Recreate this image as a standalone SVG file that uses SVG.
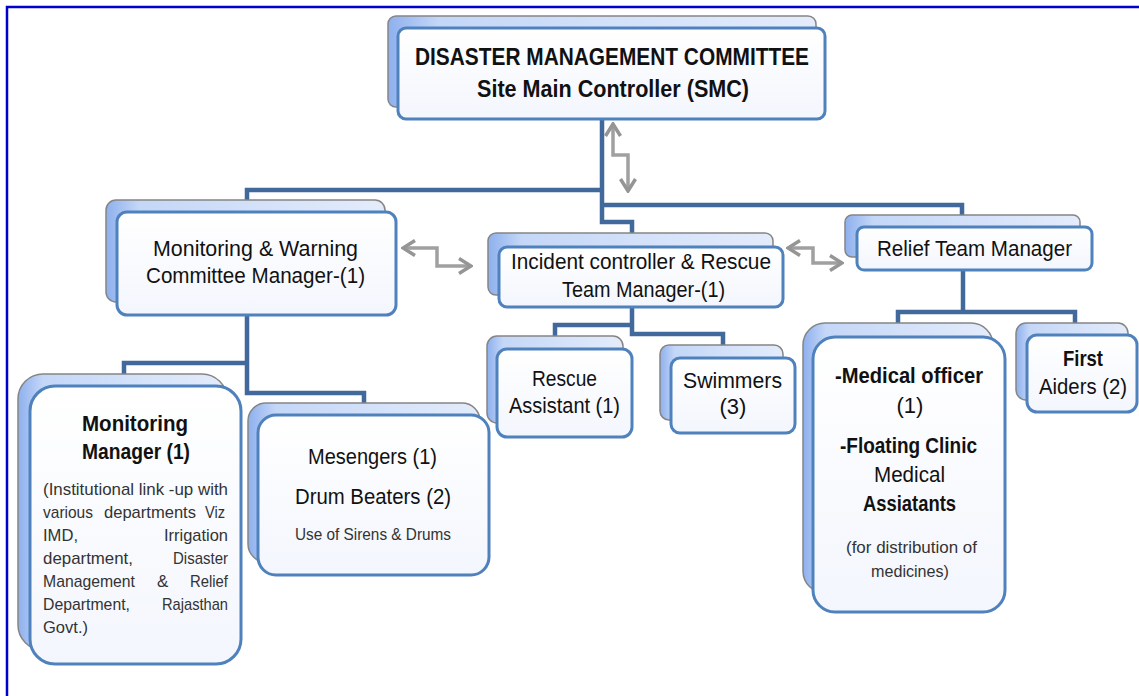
<svg xmlns="http://www.w3.org/2000/svg" width="1139" height="696" viewBox="0 0 1139 696">
<defs>
<linearGradient id="bk" x1="0" y1="0" x2="1" y2="0">
<stop offset="0" stop-color="#8eb0ee"/>
<stop offset="0.12" stop-color="#c4d7f7"/>
<stop offset="1" stop-color="#e4ecfb"/>
</linearGradient>
<linearGradient id="fr" x1="0" y1="0" x2="0" y2="1">
<stop offset="0" stop-color="#ffffff"/>
<stop offset="1" stop-color="#f3f6fd"/>
</linearGradient>
<marker id="ah" viewBox="0 0 16 18" refX="14" refY="9" markerWidth="16" markerHeight="18" markerUnits="userSpaceOnUse" orient="auto-start-reverse">
<path d="M2,1.5 L14,9 L2,16.5" fill="none" stroke="#959595" stroke-width="3.5"/>
</marker>
<style>
.bk{fill:url(#bk);stroke:#858585;stroke-width:1.5}
.fr{fill:url(#fr);stroke:#4f81bd;stroke-width:3}
.cn{fill:none;stroke:#41699b;stroke-width:4.5}
.ar{fill:none;stroke:#a0a0a0;stroke-width:3.5;marker-start:url(#ah);marker-end:url(#ah)}
text{font-family:"Liberation Sans",Arial,sans-serif;fill:#111}
.t{font-size:22px}
.b{font-weight:bold}
.s{font-size:17px;fill:#333}
.m{text-anchor:middle}
</style>
</defs>
<rect width="1139" height="696" fill="#ffffff"/>
<path d="M7,696 V7 H1139" fill="none" stroke="#0000cc" stroke-width="2.5"/>

<g id="connectors">
<path class="cn" d="M602,120 V222 H632 V233"/>
<path class="cn" d="M602,190 H247 V200"/>
<path class="cn" d="M602,205 H962 V215"/>
<path class="cn" d="M632,307 V334 H723 V345"/>
<path class="cn" d="M632,325 H555 V336"/>
<path class="cn" d="M247,315 V393 H364 V403"/>
<path class="cn" d="M247,363 H124 V374"/>
<path class="cn" d="M963,270 V312"/>
<path class="cn" d="M898,323 V312 H1075 V323"/>
<path class="ar" d="M613,124 V155 H628 V191"/>
<path class="ar" d="M403,248 H437 V266 H471"/>
<path class="ar" d="M788,248 H813 V263 H842"/>
</g>

<g id="smc">
<rect class="bk" x="388" y="16" width="428" height="91" rx="8"/>
<rect class="fr" x="398" y="28" width="427" height="91" rx="8"/>
<text class="b" x="415" y="65" font-size="24" textLength="394" lengthAdjust="spacingAndGlyphs">DISASTER MANAGEMENT COMMITTEE</text>
<text class="b" x="477" y="97" font-size="23" textLength="272" lengthAdjust="spacingAndGlyphs">Site Main Controller (SMC)</text>
</g>

<g id="monitoring-warning">
<rect class="bk" x="106" y="200" width="279" height="102" rx="10"/>
<rect class="fr" x="117" y="212" width="279" height="103" rx="10"/>
<text class="t" x="153" y="256" font-size="23" textLength="205" lengthAdjust="spacingAndGlyphs">Monitoring &amp; Warning</text>
<text class="t" x="146" y="283" font-size="23" textLength="219" lengthAdjust="spacingAndGlyphs">Committee Manager-(1)</text>
</g>

<g id="incident">
<rect class="bk" x="488" y="233" width="285" height="62" rx="8"/>
<rect class="fr" x="499" y="247" width="284" height="60" rx="8"/>
<text class="t" x="511" y="269" textLength="260" lengthAdjust="spacingAndGlyphs">Incident controller &amp; Rescue</text>
<text class="t" x="562" y="297" textLength="163" lengthAdjust="spacingAndGlyphs">Team Manager-(1)</text>
</g>

<g id="relief">
<rect class="bk" x="845" y="215" width="235" height="42" rx="7"/>
<rect class="fr" x="857" y="227" width="235" height="43" rx="7"/>
<text class="t" x="877" y="256" textLength="195" lengthAdjust="spacingAndGlyphs">Relief Team Manager</text>
</g>

<g id="rescue-assistant">
<rect class="bk" x="487" y="336" width="136" height="87" rx="10"/>
<rect class="fr" x="497" y="349" width="135" height="88" rx="10"/>
<text class="t" x="532" y="386" textLength="65" lengthAdjust="spacingAndGlyphs">Rescue</text>
<text class="t" x="509" y="413" textLength="111" lengthAdjust="spacingAndGlyphs">Assistant (1)</text>
</g>

<g id="swimmers">
<rect class="bk" x="660" y="345" width="123" height="75" rx="9"/>
<rect class="fr" x="671" y="358" width="124" height="75" rx="9"/>
<text class="t" x="683" y="388" textLength="99" lengthAdjust="spacingAndGlyphs">Swimmers</text>
<text class="t m" x="733" y="414">(3)</text>
</g>

<g id="monitoring-manager">
<rect class="bk" x="18" y="374" width="209" height="276" rx="25"/>
<rect class="fr" x="30" y="386" width="211" height="278" rx="25"/>
<text class="t b" x="82" y="431" textLength="106" lengthAdjust="spacingAndGlyphs">Monitoring</text>
<text class="t b" x="82" y="459" textLength="108" lengthAdjust="spacingAndGlyphs">Manager (1)</text>
<text class="s" x="43" y="495" textLength="185" lengthAdjust="spacingAndGlyphs">(Institutional link -up with</text>
<text class="s" x="43" y="518" textLength="50" lengthAdjust="spacingAndGlyphs">various</text>
<text class="s" x="104" y="518" textLength="92" lengthAdjust="spacingAndGlyphs">departments</text>
<text class="s" x="205" y="518" textLength="20" lengthAdjust="spacingAndGlyphs">Viz</text>
<text class="s" x="43" y="541" textLength="35" lengthAdjust="spacingAndGlyphs">IMD,</text>
<text class="s" x="164" y="541" textLength="64" lengthAdjust="spacingAndGlyphs">Irrigation</text>
<text class="s" x="43" y="564" textLength="90" lengthAdjust="spacingAndGlyphs">department,</text>
<text class="s" x="173" y="564" textLength="55" lengthAdjust="spacingAndGlyphs">Disaster</text>
<text class="s" x="43" y="587" textLength="92" lengthAdjust="spacingAndGlyphs">Management</text>
<text class="s" x="157" y="587">&amp;</text>
<text class="s" x="190" y="587" textLength="38" lengthAdjust="spacingAndGlyphs">Relief</text>
<text class="s" x="43" y="610" textLength="87" lengthAdjust="spacingAndGlyphs">Department,</text>
<text class="s" x="162" y="610" textLength="66" lengthAdjust="spacingAndGlyphs">Rajasthan</text>
<text class="s" x="43" y="633" textLength="45" lengthAdjust="spacingAndGlyphs">Govt.)</text>
</g>

<g id="messengers">
<rect class="bk" x="248" y="403" width="232" height="159" rx="18"/>
<rect class="fr" x="258" y="415" width="231" height="160" rx="18"/>
<text class="t" x="308" y="464" font-size="22" textLength="129" lengthAdjust="spacingAndGlyphs">Mesengers (1)</text>
<text class="t" x="295" y="504" font-size="22" textLength="156" lengthAdjust="spacingAndGlyphs">Drum Beaters (2)</text>
<text class="s" x="295" y="540" textLength="156" lengthAdjust="spacingAndGlyphs">Use of Sirens &amp; Drums</text>
</g>

<g id="medical">
<rect class="bk" x="803" y="323" width="190" height="270" rx="22"/>
<rect class="fr" x="813" y="337" width="192" height="275" rx="22"/>
<text class="t b" x="835" y="383" font-size="21" textLength="148" lengthAdjust="spacingAndGlyphs">-Medical officer</text>
<text class="t m" x="910" y="413">(1)</text>
<text class="t b" x="840" y="453" font-size="21" textLength="137" lengthAdjust="spacingAndGlyphs">-Floating Clinic</text>
<text class="t" x="874" y="482" font-size="21" textLength="71" lengthAdjust="spacingAndGlyphs">Medical</text>
<text class="t b" x="863" y="511" font-size="21" textLength="93" lengthAdjust="spacingAndGlyphs">Assiatants</text>
<text class="s" x="846" y="553" font-size="16" textLength="131" lengthAdjust="spacingAndGlyphs">(for distribution of</text>
<text class="s" x="871" y="577" font-size="16" textLength="78" lengthAdjust="spacingAndGlyphs">medicines)</text>
</g>

<g id="first-aiders">
<rect class="bk" x="1016" y="323" width="112" height="77" rx="10"/>
<rect class="fr" x="1027" y="335" width="110" height="77" rx="10"/>
<text class="t b" x="1063" y="366" textLength="40" lengthAdjust="spacingAndGlyphs">First</text>
<text class="t" x="1039" y="394" textLength="88" lengthAdjust="spacingAndGlyphs">Aiders (2)</text>
</g>
</svg>
